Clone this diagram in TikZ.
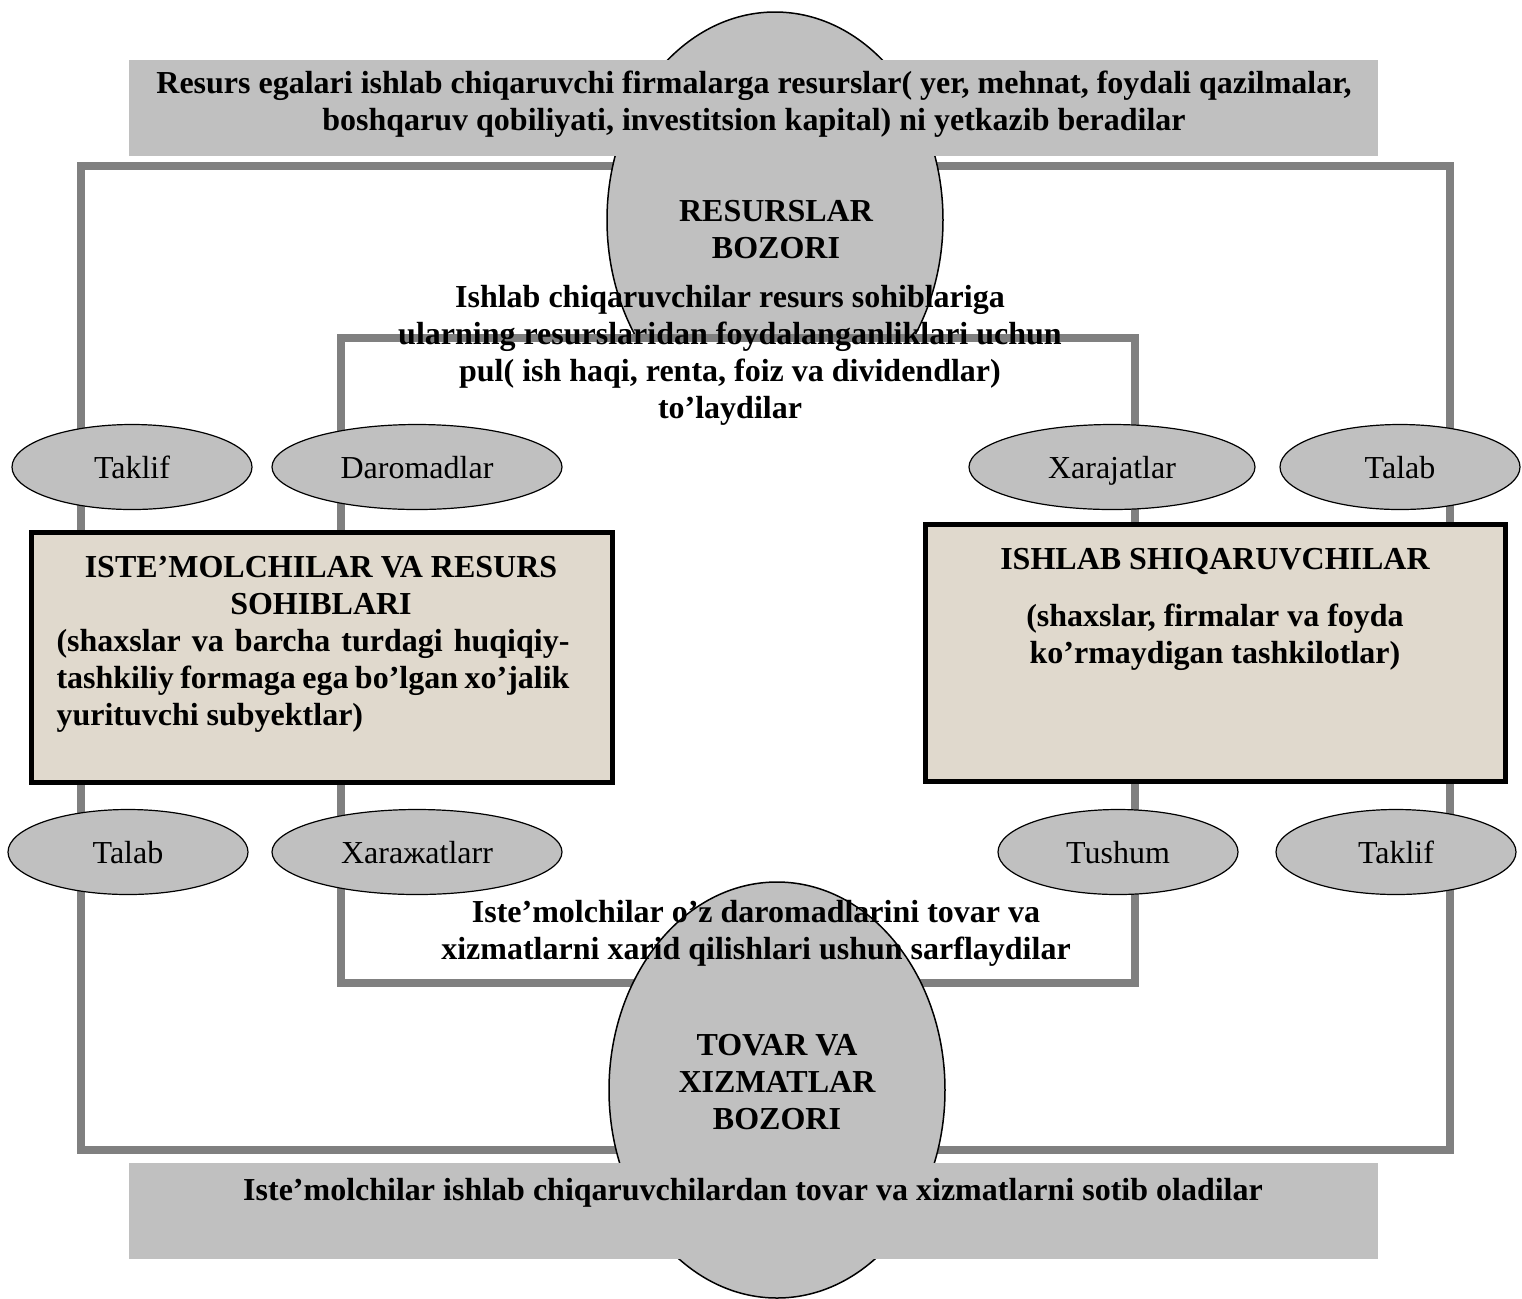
\documentclass[tikz,border=0pt]{standalone}
\usepackage{fontspec}
\setmainfont{Liberation Serif}
\usetikzlibrary{shapes.geometric,positioning}
\definecolor{bandgray}{RGB}{192,192,192}
\definecolor{linegray}{RGB}{128,128,128}
\definecolor{parchment}{RGB}{224,217,205}

\begin{document}
\begin{tikzpicture}[x=0.5pt,y=-0.5pt,
  market/.style={ellipse,draw,line width=0.75pt,fill=bandgray,
    minimum width=168pt,minimum height=208pt,inner sep=0pt},
  tag/.style={ellipse,draw,line width=0.6pt,fill=bandgray,minimum width=120pt,
    minimum height=42.5pt,inner sep=0pt,text height=11pt,text depth=0pt,
    font=\fontsize{16}{18}\selectfont},
  flow/.style={draw=linegray,line width=4pt},
  band/.style={fill=bandgray,inner sep=0pt,minimum width=624.5pt,minimum height=48pt},
  agent/.style={draw,line width=2.5pt,fill=parchment,inner sep=0pt},
  note/.style={align=center,inner sep=0pt,font=\bfseries\fontsize{16}{18.5}\selectfont}]
  \useasboundingbox (0,0) rectangle (1522,1298);

  % circuit of the two markets
  \draw[flow] (81,166) rectangle (1450,1150);
  \node[market] (resmarket) at (775,220) {};
  \draw[flow,fill=white] (341,338) rectangle (1135,983);
  \node[market] (goodsmarket) at (777,1090) {};
  \node[band] (topband) at (753.5,108) {};
  \node[band] (bottomband) at (753.5,1211) {};

  % texts
  \node[note] (toptext) at (754,104)
    {Resurs egalari ishlab chiqaruvchi firmalarga resurslar( yer, mehnat, foydali qazilmalar,\\
     boshqaruv qobiliyati, investitsion kapital) ni yetkazib beradilar};
  \node[note] (reslabel) at (776,230) {RESURSLAR\\BOZORI};
  \node[note] (paytext) at (730,355)
    {Ishlab chiqaruvchilar resurs sohiblariga\\
     ularning resurslaridan foydalanganliklari uchun\\
     pul( ish haqi, renta, foiz va dividendlar)\\
     to’laydilar};
  \node[note] (spendtext) at (756,933)
    {Iste’molchilar o’z daromadlarini tovar va\\
     xizmatlarni xarid qilishlari ushun sarflaydilar};
  \node[note] (goodslabel) at (777,1082) {TOVAR VA\\XIZMATLAR\\BOZORI};
  \node[note] (bottomtext) at (753,1193)
    {Iste’molchilar ishlab chiqaruvchilardan tovar va xizmatlarni sotib oladilar};

  % households and firms
  \node[agent,minimum width=290.5pt,minimum height=125pt] (households) at (321.5,657) {};
  \node[note,text width=256.5pt,align=justify,anchor=north] (hhtext) at (313,556)
    {{\centering\advance\leftskip 8pt ISTE’MOLCHILAR VA RESURS\\ SOHIBLARI\par}
     (shaxslar va barcha turdagi huqiqiy-\linebreak tashkiliy formaga ega bo’lgan
     xo’jalik\linebreak yurituvchi subyektlar)};
  \node[agent,minimum width=290pt,minimum height=128.5pt] (firms) at (1215,652.5) {};
  \node[note,anchor=north] (firmtext) at (1215,548)
    {ISHLAB SHIQARUVCHILAR\\[10pt]
     (shaxslar, firmalar va foyda\\ ko’rmaydigan tashkilotlar)};

  % flow labels
  \node[tag] (supply1) at (132,467) {Taklif};
  \node[tag,minimum width=145pt] (income) at (417,467) {Daromadlar};
  \node[tag,minimum width=143pt] (costs1) at (1112,467) {Xarajatlar};
  \node[tag] (demand1) at (1400,467) {Talab};
  \node[tag] (demand2) at (128,852) {Talab};
  \node[tag,minimum width=145pt] (costs2) at (417,852) {Xaraжatlarr};
  \node[tag] (revenue) at (1118,852) {Tushum};
  \node[tag] (supply2) at (1396,852) {Taklif};
\end{tikzpicture}
\end{document}
